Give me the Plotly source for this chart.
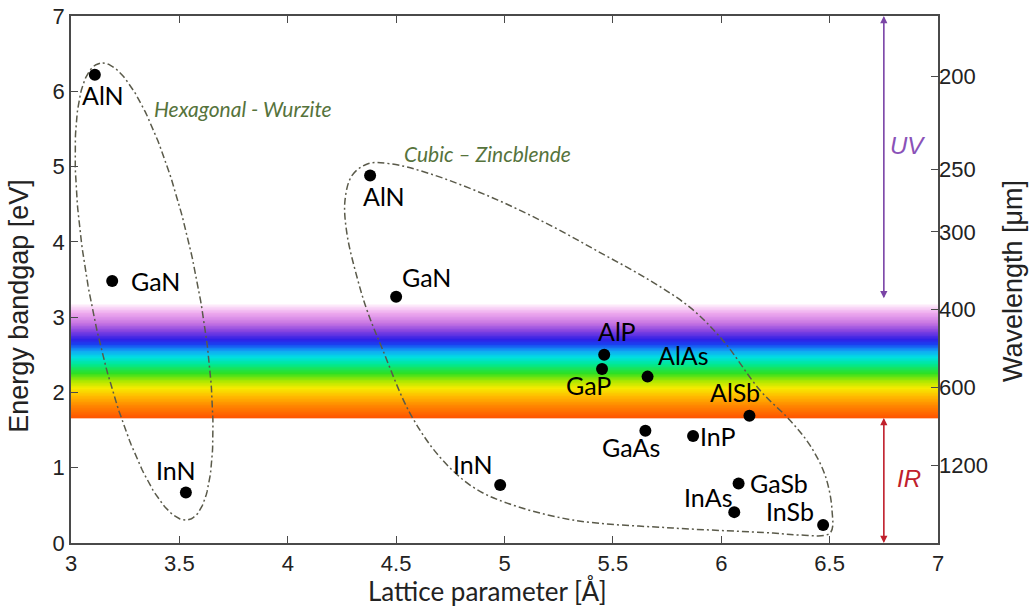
import numpy as np
import plotly.graph_objects as go

# Hexagonal (wurtzite) nitrides: lattice parameter [Å], bandgap [eV]
hex_names = ["AlN", "GaN", "InN"]
hex_a = [3.11, 3.19, 3.53]
hex_eg = [6.22, 3.48, 0.67]

# Cubic (zincblende) semiconductors
cub_names = ["AlN", "GaN", "InN", "AlP", "GaP", "AlAs", "AlSb",
             "GaAs", "InP", "GaSb", "InAs", "InSb"]
cub_a = [4.38, 4.50, 4.98, 5.46, 5.45, 5.66, 6.13,
         5.65, 5.87, 6.08, 6.06, 6.47]
cub_eg = [4.88, 3.27, 0.77, 2.50, 2.31, 2.21, 1.69,
          1.49, 1.42, 0.79, 0.41, 0.24]

# Right axis: wavelength ticks
wl_ticks = [200, 250, 300, 400, 600, 1200]

# Visible band limits (eV) and UV / IR ranges
vis_low, vis_high = 1.66, 3.17
uv_range = [3.25, 7.0]
ir_range = [0.0, 1.66]

# outline around the cubic group (hand-drawn contour)
cub_outline_x = [4.264, 4.296, 4.370, 4.472, 4.656, 4.933, 5.196, 5.441, 5.671,
                 5.856, 6.008, 6.179, 6.317, 6.409, 6.479, 6.511, 6.502, 6.363,
                 6.239, 5.777, 5.316, 5.012, 4.855, 4.702, 4.564, 4.439, 4.366,
                 4.320, 4.273, 4.264]
cub_outline_y = [4.547, 4.879, 5.038, 5.038, 4.905, 4.600, 4.242, 3.858, 3.487,
                 3.129, 2.691, 2.028, 1.631, 1.299, 0.901, 0.437, 0.133, 0.106,
                 0.133, 0.199, 0.305, 0.530, 0.742, 1.140, 1.723, 2.559, 3.089,
                 3.526, 4.110, 4.547]

# label offsets (px) for every point: (xshift, yshift, xanchor)
hex_lab = [(8, -20, "center"), (17, 0, "left"), (-10, 23, "center")]
cub_lab = [(14, -20, "center"), (4, 20, "left"), (-27, 21, "center"),
           (13, 24, "center"), (-14, -16, "center"), (8, 22, "left"),
           (-14, 24, "center"), (-14, -16, "center"), (5, 0, "left"),
           (9, 1, "left"), (-26, 15, "center"), (-33, 14, "center")]

LINE = "#4a4a4a"
OUT = "#5a5a4a"
GREEN = "#56733c"
TXT = "#222222"

fig = go.Figure()

# rainbow band of the visible spectrum
edges = np.linspace(vis_low, vis_high, 151)
mids = (edges[:-1] + edges[1:]) / 2
spectrum = [
    [0.0, "#ff5200"], [0.105, "#ff8400"], [0.193, "#ffba00"], [0.263, "#f6ea00"],
    [0.325, "#aee800"], [0.395, "#2ee022"], [0.474, "#00e896"], [0.535, "#00e0e0"],
    [0.588, "#10a8f4"], [0.649, "#1a40f0"], [0.693, "#3020e6"], [0.763, "#8442e0"],
    [0.833, "#c674e2"], [0.921, "#eeaaee"], [1.0, "#fff2fc"],
]
fig.add_trace(go.Heatmap(
    x=[3, 7], y=edges, z=[[m, m] for m in mids],
    colorscale=spectrum, zmin=vis_low, zmax=vis_high,
    showscale=False, hoverinfo="skip"
))

# hexagonal outline: tilted ellipse (drawn in pixel-like units)
sx, sy = 216.75, 75.43
t = np.linspace(0, 2 * np.pi, 240)
a_px, b_px, phi = 233, 54, np.radians(100.9)
u, v = a_px * np.cos(t), b_px * np.sin(t)
ex = 3.337 + (u * np.cos(phi) - v * np.sin(phi)) / sx
ey = 3.34 + (u * np.sin(phi) + v * np.cos(phi)) / sy
fig.add_trace(go.Scatter(x=ex, y=ey, mode="lines", hoverinfo="skip",
                         line=dict(color=OUT, width=1.5, dash="7px,3px,2px,3px")))

fig.add_trace(go.Scatter(x=cub_outline_x, y=cub_outline_y, mode="lines",
                         hoverinfo="skip",
                         line=dict(color=OUT, width=1.5, shape="spline",
                                   smoothing=1.0, dash="7px,3px,2px,3px")))

# data points
fig.add_trace(go.Scatter(x=hex_a + cub_a, y=hex_eg + cub_eg, mode="markers",
                         marker=dict(color="black", size=12), hoverinfo="skip"))

# invisible trace so the wavelength axis is drawn
fig.add_trace(go.Scatter(x=[3], y=[0], yaxis="y2", mode="markers",
                         marker=dict(opacity=0), hoverinfo="skip"))

annotations = []
for names, xs, ys, labs in [(hex_names, hex_a, hex_eg, hex_lab),
                            (cub_names, cub_a, cub_eg, cub_lab)]:
    for n, x, y, (dx, dy, anc) in zip(names, xs, ys, labs):
        annotations.append(dict(
            x=x, y=y, text=n, showarrow=False, xanchor=anc, yanchor="middle",
            xshift=dx, yshift=dy, font=dict(family="Lato", size=25, color="black")))

annotations += [
    dict(x=3.374, y=5.77, text="<i>Hexagonal - Wurzite</i>", showarrow=False,
         xanchor="left", font=dict(family="Lato", size=21, color=GREEN)),
    dict(x=4.527, y=5.18, text="<i>Cubic \u2013 Zincblende</i>", showarrow=False,
         xanchor="left", font=dict(family="Lato", size=21, color=GREEN)),
    # UV and IR ranges
    dict(x=6.75, y=uv_range[0], ax=6.75, ay=uv_range[1], xref="x", yref="y",
         axref="x", ayref="y", text="", showarrow=True, arrowhead=2,
         arrowsize=1.2, arrowwidth=1.2, arrowcolor="#7a45a6"),
    dict(x=6.75, y=uv_range[1], ax=6.75, ay=uv_range[0], xref="x", yref="y",
         axref="x", ayref="y", text="", showarrow=True, arrowhead=2,
         arrowsize=1.2, arrowwidth=1.2, arrowcolor="#7a45a6"),
    dict(x=6.86, y=5.28, text="<i>UV</i>", showarrow=False,
         font=dict(family="Liberation Sans", size=24, color="#8a52b8")),
    dict(x=6.75, y=ir_range[0], ax=6.75, ay=ir_range[1], xref="x", yref="y",
         axref="x", ayref="y", text="", showarrow=True, arrowhead=2,
         arrowsize=1.2, arrowwidth=1.2, arrowcolor="#c0202c"),
    dict(x=6.75, y=ir_range[1], ax=6.75, ay=ir_range[0], xref="x", yref="y",
         axref="x", ayref="y", text="", showarrow=True, arrowhead=2,
         arrowsize=1.2, arrowwidth=1.2, arrowcolor="#c0202c"),
    dict(x=6.865, y=0.86, text="<i>IR</i>", showarrow=False,
         font=dict(family="Liberation Sans", size=24, color="#c0202c")),
    # axis titles
    dict(x=-0.060, y=0.45, xref="paper", yref="paper", text="Energy bandgap [eV]",
         textangle=-90, showarrow=False, xanchor="center", yanchor="middle",
         font=dict(family="Liberation Sans", size=27, color=TXT)),
    dict(x=1.0865, y=0.497, xref="paper", yref="paper", text="Wavelength [μm]",
         textangle=-90, showarrow=False, xanchor="center", yanchor="middle",
         font=dict(family="Liberation Sans", size=27, color=TXT)),
    dict(x=0.48, y=-0.091, xref="paper", yref="paper", text="Lattice parameter [Å]",
         showarrow=False, xanchor="center", yanchor="middle",
         font=dict(family="Lato", size=26, color=TXT)),
]

tickfont = dict(family="Liberation Sans", size=22, color=TXT)

fig.update_layout(
    width=1031, height=614,
    paper_bgcolor="white", plot_bgcolor="white",
    margin=dict(l=71, r=93, t=16, b=71),
    showlegend=False,
    annotations=annotations,
    xaxis=dict(range=[3, 7], dtick=0.5, ticks="inside", ticklen=7,
               tickcolor=LINE, showline=True, linecolor=LINE, linewidth=1.5,
               mirror="ticks", showgrid=False, zeroline=False, tickfont=tickfont,
               automargin=False),
    yaxis=dict(range=[0, 7], dtick=1, ticks="inside", ticklen=7,
               tickcolor=LINE, showline=True, linecolor=LINE, linewidth=1.5,
               mirror=True, showgrid=False, zeroline=False, tickfont=tickfont,
               automargin=False),
    yaxis2=dict(overlaying="y", side="right", range=[0, 7],
                tickvals=[1240 / w for w in wl_ticks],
                ticktext=[str(w) for w in wl_ticks],
                ticks="inside", ticklen=7, tickcolor=LINE, showline=False,
                showgrid=False, zeroline=False, tickfont=tickfont,
                automargin=False),
)

# drop the default page margin so the figure sits at the window corner
fig.write_html("out.html", config={"displayModeBar": False},
               post_script="document.body.style.margin='0';")
